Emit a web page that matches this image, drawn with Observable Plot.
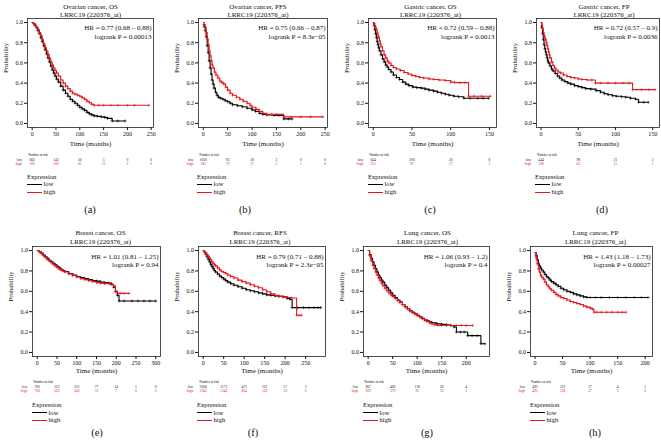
<!DOCTYPE html>
<html><head><meta charset="utf-8">
<script src="https://cdn.jsdelivr.net/npm/d3@7"></script>
<script src="https://cdn.jsdelivr.net/npm/@observablehq/plot@0.6"></script>
<style>
html,body{margin:0;padding:0;background:#fff;}
body{width:661px;height:445px;position:relative;overflow:hidden;font-family:"Liberation Serif","DejaVu Serif",serif;color:#111;}
.t{position:absolute;white-space:nowrap;}
.ln{position:absolute;height:0;}
svg{position:absolute;}
</style></head>
<body>
<script>
// ---------------- data ----------------
const SUBTITLE = "LRRC19 (220376_at)";
const titles = ["Ovarian cancer, OS","Ovarian cancer, PFS","Gastric cancer, OS","Gastric cancer, FP",
                "Breast cancer, OS","Breast cancer, RFS","Lung cancer, OS","Lung cancer, FP"];
const hrTexts = ["HR = 0.77 (0.68 – 0.88)","HR = 0.75 (0.66 – 0.87)","HR = 0.72 (0.59 – 0.88)","HR = 0.72 (0.57 – 0.9)",
                 "HR = 1.01 (0.81 – 1.25)","HR = 0.79 (0.71 – 0.88)","HR = 1.06 (0.93 – 1.2)","HR = 1.43 (1.18 – 1.73)"];
const pTexts = ["logrank P = 0.00013","logrank P = 8.3e−05","logrank P = 0.0013","logrank P = 0.0036",
                "logrank P = 0.94","logrank P = 2.3e−05","logrank P = 0.4","logrank P = 0.00027"];
const panelLabels = ["(a)","(b)","(c)","(d)","(e)","(f)","(g)","(h)"];
const xMax = [245,245,153,153,300,287,238,205];

const ticks250 = [0,50,100,150,200,250];
const ticks150 = [0,50,100,150];
const ticks300 = [0,50,100,150,200,250,300];
const ticks200 = [0,50,100,150,200];
const probTicks = [0,0.2,0.4,0.6,0.8,1.0];

// number at risk
const riskLowA = [663,143,30,5,0,0],      riskHighA = [593,209,61,13,2,0];
const riskLowB = [1050,93,18,3,0,0],      riskHighB = [385,79,17,5,1,0];
const riskLowC = [644,200,50,8],          riskHighC = [231,97,17,1];
const riskLowD = [444,98,21,5],           riskHighD = [196,63,15,1];
const riskLowE = [782,521,231,77,14,1,0], riskHighE = [700,502,240,52,7,0,0];
const riskLowF = [2006,1173,471,121,17,3],riskHighF = [1945,1346,604,120,10,0];
const riskLowG = [967,400,118,20,4],      riskHighG = [959,379,95,18,1];
const riskLowH = [491,212,17,4,1],        riskHighH = [491,158,27,5,0];

// survival curves [time (months), probability]
const ovOsLow = [[0,1],[3,0.99],[6,0.97],[9,0.95],[12,0.92],[15,0.89],[18,0.85],[21,0.81],[24,0.77],[27,0.73],[30,0.69],[33,0.65],[36,0.61],[39,0.57],[42,0.53],[45,0.5],[48,0.47],[51,0.44],[55,0.41],[60,0.37],[65,0.33],[70,0.3],[75,0.27],[80,0.24],[85,0.22],[90,0.2],[95,0.18],[100,0.16],[105,0.145],[110,0.13],[115,0.11],[120,0.095],[125,0.085],[130,0.075],[137,0.07],[145,0.065],[152,0.06],[158,0.05],[168,0.025],[180,0.025],[195,0.025]];
const ovOsHigh = [[0,1],[3,0.99],[6,0.975],[9,0.955],[12,0.93],[15,0.9],[18,0.87],[21,0.83],[24,0.79],[27,0.75],[30,0.72],[33,0.68],[36,0.645],[39,0.61],[42,0.58],[45,0.55],[48,0.525],[51,0.5],[55,0.47],[60,0.43],[65,0.4],[70,0.37],[75,0.345],[80,0.32],[85,0.3],[90,0.29],[95,0.28],[100,0.27],[105,0.255],[110,0.24],[115,0.22],[120,0.205],[125,0.19],[130,0.18],[140,0.18],[150,0.18],[165,0.18],[180,0.18],[200,0.18],[215,0.18],[245,0.18]];
const ovPfsLow = [[0,0.98],[2,0.96],[4,0.92],[6,0.86],[8,0.77],[10,0.7],[12,0.62],[14,0.55],[16,0.49],[18,0.43],[20,0.39],[22,0.35],[25,0.31],[28,0.28],[31,0.26],[35,0.25],[40,0.24],[45,0.225],[50,0.215],[55,0.2],[60,0.185],[70,0.175],[80,0.165],[90,0.15],[100,0.135],[107,0.12],[115,0.1],[122,0.09],[130,0.085],[145,0.08],[155,0.08],[165,0.045],[175,0.045],[182,0.045]];
const ovPfsHigh = [[0,1],[2,0.98],[4,0.95],[6,0.9],[8,0.84],[10,0.78],[12,0.72],[14,0.67],[16,0.62],[18,0.58],[20,0.55],[23,0.51],[26,0.48],[30,0.45],[34,0.42],[38,0.405],[42,0.39],[46,0.36],[50,0.33],[55,0.3],[60,0.28],[68,0.26],[75,0.24],[82,0.22],[90,0.2],[96,0.18],[100,0.16],[108,0.14],[115,0.12],[122,0.1],[130,0.09],[140,0.09],[150,0.09],[165,0.065],[180,0.065],[200,0.065],[220,0.065],[245,0.065]];
const gaOsLow = [[0,1],[1,0.97],[2,0.93],[3,0.89],[4,0.85],[5,0.81],[6,0.78],[7,0.75],[8,0.72],[10,0.68],[12,0.64],[14,0.61],[16,0.58],[18,0.56],[20,0.535],[23,0.51],[26,0.48],[30,0.455],[34,0.435],[38,0.41],[42,0.39],[46,0.375],[51,0.36],[56,0.355],[62,0.35],[67,0.34],[72,0.33],[78,0.32],[83,0.31],[88,0.3],[93,0.29],[98,0.28],[104,0.27],[110,0.265],[117,0.25],[125,0.25],[135,0.25],[142,0.25],[149,0.25]];
const gaOsHigh = [[0,1],[1,0.99],[2,0.97],[3,0.95],[4,0.93],[5,0.9],[6,0.87],[7,0.85],[8,0.82],[9,0.79],[10,0.76],[12,0.72],[14,0.68],[16,0.65],[18,0.62],[20,0.6],[23,0.575],[26,0.555],[30,0.54],[35,0.525],[40,0.505],[45,0.49],[50,0.475],[55,0.465],[60,0.455],[65,0.45],[72,0.44],[78,0.435],[85,0.43],[93,0.425],[100,0.41],[105,0.405],[112,0.405],[118,0.405],[123,0.27],[130,0.27],[140,0.27],[151,0.27]];
const gaFpLow = [[0,1],[1,0.95],[2,0.89],[3,0.83],[4,0.78],[5,0.74],[6,0.71],[7,0.68],[8,0.65],[9,0.62],[10,0.6],[12,0.57],[14,0.54],[16,0.52],[19,0.495],[22,0.47],[25,0.45],[28,0.43],[32,0.415],[36,0.4],[40,0.39],[45,0.375],[50,0.365],[55,0.355],[60,0.345],[67,0.34],[74,0.325],[80,0.31],[85,0.295],[90,0.285],[96,0.275],[101,0.27],[108,0.265],[114,0.26],[120,0.25],[127,0.24],[131,0.21],[138,0.21],[144,0.21]];
const gaFpHigh = [[0,1],[1,0.97],[2,0.94],[3,0.9],[4,0.87],[5,0.85],[6,0.83],[7,0.8],[8,0.77],[9,0.74],[10,0.71],[11,0.68],[12,0.65],[14,0.61],[16,0.575],[18,0.55],[20,0.53],[23,0.51],[26,0.5],[30,0.48],[35,0.465],[40,0.455],[45,0.45],[50,0.44],[55,0.435],[62,0.43],[68,0.43],[73,0.4],[80,0.4],[90,0.4],[100,0.4],[110,0.4],[118,0.4],[123,0.335],[135,0.335],[145,0.335],[153,0.335]];
const brOsLow = [[0,1],[5,0.99],[10,0.975],[15,0.955],[20,0.94],[25,0.925],[30,0.905],[35,0.89],[40,0.875],[45,0.86],[50,0.845],[55,0.83],[60,0.815],[65,0.805],[70,0.795],[80,0.775],[90,0.76],[100,0.745],[110,0.735],[120,0.725],[130,0.715],[140,0.705],[150,0.7],[160,0.69],[170,0.685],[180,0.68],[188,0.67],[193,0.64],[198,0.6],[203,0.56],[207,0.505],[220,0.505],[240,0.505],[255,0.505],[270,0.505],[285,0.505],[300,0.505]];
const brOsHigh = [[0,1],[5,0.99],[10,0.975],[15,0.955],[20,0.935],[25,0.915],[30,0.9],[35,0.885],[40,0.865],[45,0.85],[50,0.835],[55,0.82],[60,0.81],[65,0.8],[70,0.79],[80,0.77],[90,0.755],[100,0.74],[110,0.725],[120,0.715],[130,0.705],[140,0.695],[150,0.685],[160,0.68],[170,0.675],[185,0.67],[193,0.655],[198,0.6],[202,0.58],[210,0.58],[220,0.58],[232,0.58]];
const brRfsLow = [[0,1],[3,0.985],[6,0.965],[9,0.94],[12,0.915],[15,0.89],[18,0.865],[21,0.845],[24,0.825],[27,0.805],[30,0.79],[35,0.77],[40,0.75],[45,0.735],[50,0.72],[55,0.705],[60,0.69],[67,0.675],[75,0.66],[85,0.645],[95,0.63],[105,0.615],[115,0.605],[125,0.595],[135,0.585],[145,0.575],[155,0.565],[165,0.56],[175,0.555],[185,0.55],[195,0.545],[205,0.53],[212,0.52],[217,0.44],[230,0.44],[245,0.44],[258,0.44],[270,0.44],[280,0.44],[287,0.44]];
const brRfsHigh = [[0,1],[3,0.99],[6,0.975],[9,0.96],[12,0.945],[15,0.93],[18,0.91],[21,0.89],[24,0.875],[27,0.86],[30,0.85],[35,0.83],[40,0.81],[45,0.795],[50,0.785],[55,0.775],[60,0.76],[67,0.745],[75,0.73],[85,0.71],[95,0.695],[105,0.68],[115,0.665],[125,0.65],[135,0.635],[145,0.615],[155,0.595],[165,0.575],[175,0.56],[185,0.55],[195,0.545],[205,0.54],[215,0.535],[228,0.365],[234,0.365],[240,0.365]];
const luOsLow = [[0,1],[3,0.96],[6,0.925],[9,0.89],[12,0.855],[15,0.82],[18,0.79],[21,0.76],[24,0.735],[27,0.71],[30,0.69],[34,0.66],[38,0.635],[42,0.61],[46,0.585],[50,0.56],[55,0.54],[60,0.515],[65,0.495],[70,0.47],[75,0.45],[80,0.43],[85,0.41],[90,0.395],[95,0.38],[100,0.365],[105,0.35],[110,0.335],[115,0.32],[120,0.31],[125,0.3],[130,0.29],[140,0.28],[150,0.275],[160,0.27],[168,0.265],[175,0.25],[180,0.2],[188,0.2],[196,0.2],[203,0.165],[212,0.165],[222,0.165],[230,0.085],[238,0.085]];
const luOsHigh = [[0,1],[3,0.95],[6,0.9],[9,0.86],[12,0.825],[15,0.79],[18,0.76],[21,0.73],[24,0.705],[27,0.68],[30,0.655],[34,0.63],[38,0.605],[42,0.585],[46,0.565],[50,0.55],[55,0.53],[60,0.51],[65,0.49],[70,0.47],[75,0.45],[80,0.43],[85,0.41],[90,0.395],[95,0.38],[100,0.365],[105,0.35],[110,0.335],[115,0.32],[120,0.305],[125,0.29],[130,0.28],[136,0.27],[142,0.265],[150,0.265],[160,0.265],[170,0.265],[180,0.265],[190,0.265],[200,0.265],[213,0.265]];
const luFpLow = [[0,0.98],[2,0.95],[4,0.91],[6,0.87],[8,0.85],[10,0.83],[12,0.81],[15,0.79],[18,0.765],[21,0.745],[24,0.73],[27,0.71],[30,0.695],[34,0.68],[38,0.665],[42,0.65],[47,0.63],[52,0.615],[58,0.6],[64,0.59],[70,0.575],[76,0.565],[82,0.555],[88,0.545],[94,0.54],[100,0.54],[110,0.54],[120,0.54],[135,0.54],[150,0.54],[165,0.54],[180,0.54],[193,0.54],[205,0.54]];
const luFpHigh = [[0,0.98],[2,0.93],[4,0.87],[6,0.82],[8,0.79],[10,0.76],[12,0.74],[15,0.72],[18,0.69],[21,0.665],[24,0.645],[27,0.625],[30,0.61],[34,0.59],[38,0.57],[42,0.555],[47,0.54],[52,0.53],[58,0.515],[64,0.5],[70,0.49],[76,0.48],[82,0.47],[88,0.455],[94,0.445],[100,0.435],[104,0.425],[107,0.395],[112,0.395],[120,0.395],[130,0.395],[140,0.395],[150,0.395],[158,0.395],[165,0.395]];

const lowCurves  = [ovOsLow, ovPfsLow, gaOsLow, gaFpLow, brOsLow, brRfsLow, luOsLow, luFpLow];
const highCurves = [ovOsHigh, ovPfsHigh, gaOsHigh, gaFpHigh, brOsHigh, brRfsHigh, luOsHigh, luFpHigh];
const tickSets   = [ticks250, ticks250, ticks150, ticks150, ticks300, ticks250, ticks200, ticks200];
const riskLows   = [riskLowA, riskLowB, riskLowC, riskLowD, riskLowE, riskLowF, riskLowG, riskLowH];
const riskHighs  = [riskHighA, riskHighB, riskHighC, riskHighD, riskHighE, riskHighF, riskHighG, riskHighH];

// ---------------- layout ----------------
const FONT = '"Liberation Serif","DejaVu Serif",serif';
const RED = "#e5171d";
const ROWS = [
  {top: 0,   ft: 18,  fb: 127, t1: -14, t2: -6.3, h1: 6.3, h2: 15.2, xl: 18, r0: 28.5, r1: 33.3, r2: 37.2, le: 177, ll: 184.5, lh: 192.5, lab: 210},
  {top: 225, ft: 246, fb: 356, t1: -16, t2: -7.5, h1: 7.3, h2: 16,   xl: 16, r0: 26,   r1: 31.8, r2: 35.8, le: 405.5, ll: 413, lh: 420.5, lab: 433}
];
const LAYOUT = [
  {col:0,row:0,fl:27, fr:153,tdx:0, legX:27, labX:90},
  {col:1,row:0,fl:198,fr:327,tdx:-5,legX:197,labX:245},
  {col:2,row:0,fl:368,fr:496,tdx:-2,legX:368,labX:430},
  {col:3,row:0,fl:536,fr:659,tdx:6, legX:535,labX:602},
  {col:0,row:1,fl:32, fr:160,tdx:4, legX:32, labX:97},
  {col:1,row:1,fl:198,fr:325,tdx:-2,legX:197,labX:253},
  {col:2,row:1,fl:363,fr:489,tdx:1, legX:363,labX:427},
  {col:3,row:1,fl:530,fr:652,tdx:4, legX:530,labX:595}
];

function addText(txt, x, yc, size, color, align) {
  const el = document.createElement("div");
  el.className = "t";
  el.textContent = txt;
  el.style.fontSize = size + "px";
  el.style.lineHeight = size + "px";
  el.style.top = (yc - size / 2) + "px";
  el.style.color = color || "#111";
  if (align === "center") { el.style.left = (x - 50) + "px"; el.style.width = "100px"; el.style.textAlign = "center"; }
  else el.style.left = x + "px";
  document.body.appendChild(el);
}
function addLine(x, y, w, color) {
  const el = document.createElement("div");
  el.className = "ln";
  el.style.left = x + "px"; el.style.top = (y - 0.6) + "px"; el.style.width = w + "px";
  el.style.borderTop = "1.3px solid " + color;
  document.body.appendChild(el);
}

function drawPanel(i) {
  const L = LAYOUT[i], R = ROWS[L.row];
  const svgLeft = L.col * 165;
  const W = L.col === 3 ? 166 : 165;
  const H = 172;
  const ticks = tickSets[i];
  const risk = ticks.map((t, k) => ({t, low: riskLows[i][k], high: riskHighs[i][k]}));
  const low = lowCurves[i], high = highCurves[i];
  const chart = Plot.plot({
    width: W, height: H,
    marginLeft: L.fl - svgLeft, marginRight: svgLeft + W - L.fr,
    marginTop: R.ft - R.top, marginBottom: R.top + H - R.fb,
    style: {fontFamily: FONT, fontSize: "6px", background: "transparent", overflow: "visible", color: "#111"},
    x: {domain: [-0.04 * xMax[i], 1.04 * xMax[i]], ticks: ticks, tickSize: 3, tickPadding: 1.5, label: null, tickFormat: d3.format("d")},
    y: {domain: [-0.04, 1.04], ticks: probTicks, tickFormat: d3.format(".1f"), tickSize: 3, tickPadding: 1.5, label: null},
    marks: [
      Plot.frame({stroke: "#222", strokeWidth: 0.8}),
      Plot.text([titles[i]], {frameAnchor: "top", dx: L.tdx, dy: R.t1, fontSize: 7}),
      Plot.text([SUBTITLE], {frameAnchor: "top", dx: L.tdx, dy: R.t2, fontSize: 7}),
      Plot.text(["Probability"], {frameAnchor: "left", rotate: -90, dx: -22, fontSize: 6.8}),
      Plot.text(["Time (months)"], {frameAnchor: "bottom", dy: R.xl, fontSize: 7}),
      Plot.text([hrTexts[i]], {frameAnchor: "top-right", dx: -2, dy: R.h1, textAnchor: "end", fontSize: 7}),
      Plot.text([pTexts[i]], {frameAnchor: "top-right", dx: -2, dy: R.h2, textAnchor: "end", fontSize: 7}),
      Plot.line(low, {x: d => d[0], y: d => d[1], curve: "step-after", stroke: "#000", strokeWidth: 1.1}),
      Plot.dot(low.slice(1), {x: d => d[0], y: d => d[1], symbol: "plus", r: 1.1, stroke: "#000", strokeWidth: 0.5}),
      Plot.line(high, {x: d => d[0], y: d => d[1], curve: "step-after", stroke: RED, strokeWidth: 1.1}),
      Plot.dot(high.slice(1), {x: d => d[0], y: d => d[1], symbol: "plus", r: 1.1, stroke: RED, strokeWidth: 0.5}),
      Plot.text(["Number at risk"], {x: () => 0, frameAnchor: "bottom", dy: R.r0, dx: -4, textAnchor: "start", fontSize: 3.3}),
      Plot.text(["low"], {x: () => 0, frameAnchor: "bottom", dy: R.r1, dx: -10, textAnchor: "end", fontSize: 3.6}),
      Plot.text(["high"], {x: () => 0, frameAnchor: "bottom", dy: R.r2, dx: -10, textAnchor: "end", fontSize: 3.6, fill: RED}),
      Plot.text(risk, {x: "t", text: r => String(r.low), frameAnchor: "bottom", dy: R.r1, fontSize: 3.6}),
      Plot.text(risk, {x: "t", text: r => String(r.high), frameAnchor: "bottom", dy: R.r2, fontSize: 3.6, fill: RED})
    ]
  });
  chart.style.position = "absolute";
  chart.style.left = svgLeft + "px";
  chart.style.top = R.top + "px";
  document.body.appendChild(chart);

  // legend
  addText("Expression", L.legX, R.le, 6.6, "#111", "start");
  addLine(L.legX, R.ll, 15, "#000");
  addText("low", L.legX + 16.5, R.ll, 6.6, "#111", "start");
  addLine(L.legX, R.lh, 15, RED);
  addText("high", L.legX + 16.5, R.lh, 6.6, "#111", "start");
  addText(panelLabels[i], L.labX, R.lab, 10.5, "#111", "center");
}

for (let i = 0; i < 8; i++) drawPanel(i);
</script>
</body></html>
